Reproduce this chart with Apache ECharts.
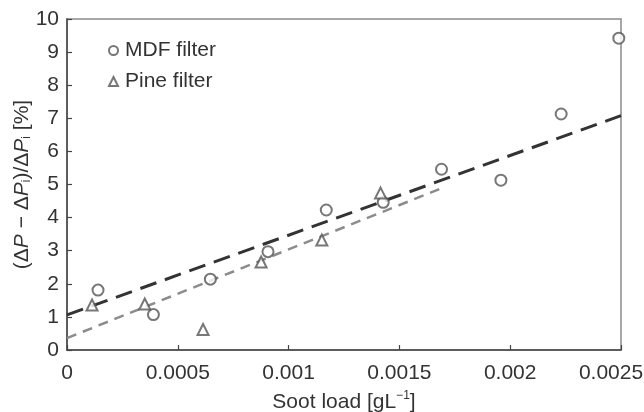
<!DOCTYPE html>
<html>
<head>
<meta charset="utf-8">
<script src="https://cdn.jsdelivr.net/npm/echarts@6/dist/echarts.min.js"></script>
<style>
  html, body { margin: 0; padding: 0; background: #fff; }
  #root { width: 644px; height: 412px; }
</style>
</head>
<body>
<div id="root"></div>
<script>
// soot load [g/L] vs relative pressure drop change [%]
const mdfX = [0.00014, 0.00039, 0.000647, 0.000907, 0.00117, 0.001427, 0.00169, 0.001958, 0.00223, 0.00249];
const mdfY = [1.81, 1.07, 2.14, 2.97, 4.23, 4.46, 5.46, 5.13, 7.13, 9.42];

const pineX = [0.000113, 0.000351, 0.000614, 0.000876, 0.00115, 0.001415];
const pineY = [1.36, 1.39, 0.62, 2.66, 3.32, 4.74];

// fitted lines, end points
const mdfFitX = [0, 0.0025];
const mdfFitY = [1.06, 7.08];
const pineFitX = [0, 0.00168];
const pineFitY = [0.36, 4.86];

const xLabels = ['0', '0.0005', '0.001', '0.0015', '0.002', '0.0025'];

const font = 'Liberation Sans';
const fs = 21;
const zip = (xs, ys) => xs.map((x, i) => [x, ys[i]]);

let myChart = echarts.init(document.getElementById('root'));

let option = {
  animation: false,
  textStyle: { fontFamily: font },
  grid: {
    left: 67, right: 23, top: 19, bottom: 62,
    outerBoundsMode: 'none',
    containLabel: false,
    show: true,
    borderColor: '#8a8a8a',
    borderWidth: 1.5
  },
  legend: {
    orient: 'vertical',
    left: 103,
    top: 35,
    itemWidth: 9,
    itemHeight: 9,
    itemGap: 10,
    data: ['MDF filter', 'Pine filter'],
    textStyle: { fontSize: fs, color: '#333', fontFamily: font, padding: [0, 0, 0, 2] }
  },
  xAxis: {
    type: 'value',
    min: 0,
    max: 0.0025,
    interval: 0.0005,
    name: 'Soot load [gL{sup|−1}]',
    nameLocation: 'middle',
    nameGap: 40,
    nameMoveOverlap: false,
    nameTextStyle: {
      fontSize: fs, color: '#333', fontFamily: font,
      rich: {
        sup: { fontSize: 12, color: '#333', fontFamily: font, padding: [0, 0, 12, 0] }
      }
    },
    splitLine: { show: false },
    axisLine: { lineStyle: { color: '#444', width: 1.5 } },
    axisTick: { inside: true, length: 5, lineStyle: { color: '#444', width: 1.2 } },
    axisLabel: {
      fontSize: fs,
      color: '#333',
      margin: 13,
      formatter: function (v, i) {
        return i === xLabels.length - 1 ? '{last|' + xLabels[i] + '}' : xLabels[i];
      },
      rich: {
        last: { fontSize: fs, color: '#333', fontFamily: font, padding: [0, 20, 0, 0] }
      }
    }
  },
  yAxis: {
    type: 'value',
    min: 0,
    max: 10,
    interval: 1,
    name: '(Δ{it|P} − Δ{it|P}{sub|i})/Δ{it|P}{sub|i} [%]',
    nameLocation: 'middle',
    nameGap: 34,
    nameMoveOverlap: false,
    nameTextStyle: {
      fontSize: fs, color: '#333', fontFamily: font,
      rich: {
        it: { fontSize: fs, fontStyle: 'italic', color: '#333', fontFamily: font },
        sub: { fontSize: 12, color: '#333', fontFamily: font, padding: [10, 0, 0, 0] }
      }
    },
    splitLine: { show: false },
    axisLine: { lineStyle: { color: '#444', width: 1.5 } },
    axisTick: { inside: true, length: 5, lineStyle: { color: '#444', width: 1.2 } },
    axisLabel: { fontSize: fs, color: '#333', margin: 8 }
  },
  series: [
    {
      name: 'MDF fit',
      type: 'line',
      data: zip(mdfFitX, mdfFitY),
      showSymbol: false,
      silent: true,
      lineStyle: { color: '#333', width: 3, type: [17, 9] },
      z: 1
    },
    {
      name: 'Pine fit',
      type: 'line',
      data: zip(pineFitX, pineFitY),
      showSymbol: false,
      silent: true,
      lineStyle: { color: '#8c8c8c', width: 2.5, type: [10, 7] },
      z: 1
    },
    {
      name: 'MDF filter',
      type: 'scatter',
      data: zip(mdfX, mdfY),
      symbol: 'emptyCircle',
      symbolSize: 11,
      itemStyle: { color: '#555', borderWidth: 1.6 },
      z: 3
    },
    {
      name: 'Pine filter',
      type: 'scatter',
      data: zip(pineX, pineY),
      symbol: 'emptyTriangle',
      symbolSize: 11,
      itemStyle: { color: '#555', borderWidth: 1.6 },
      z: 3
    }
  ]
};

myChart.setOption(option);
</script>
</body>
</html>
